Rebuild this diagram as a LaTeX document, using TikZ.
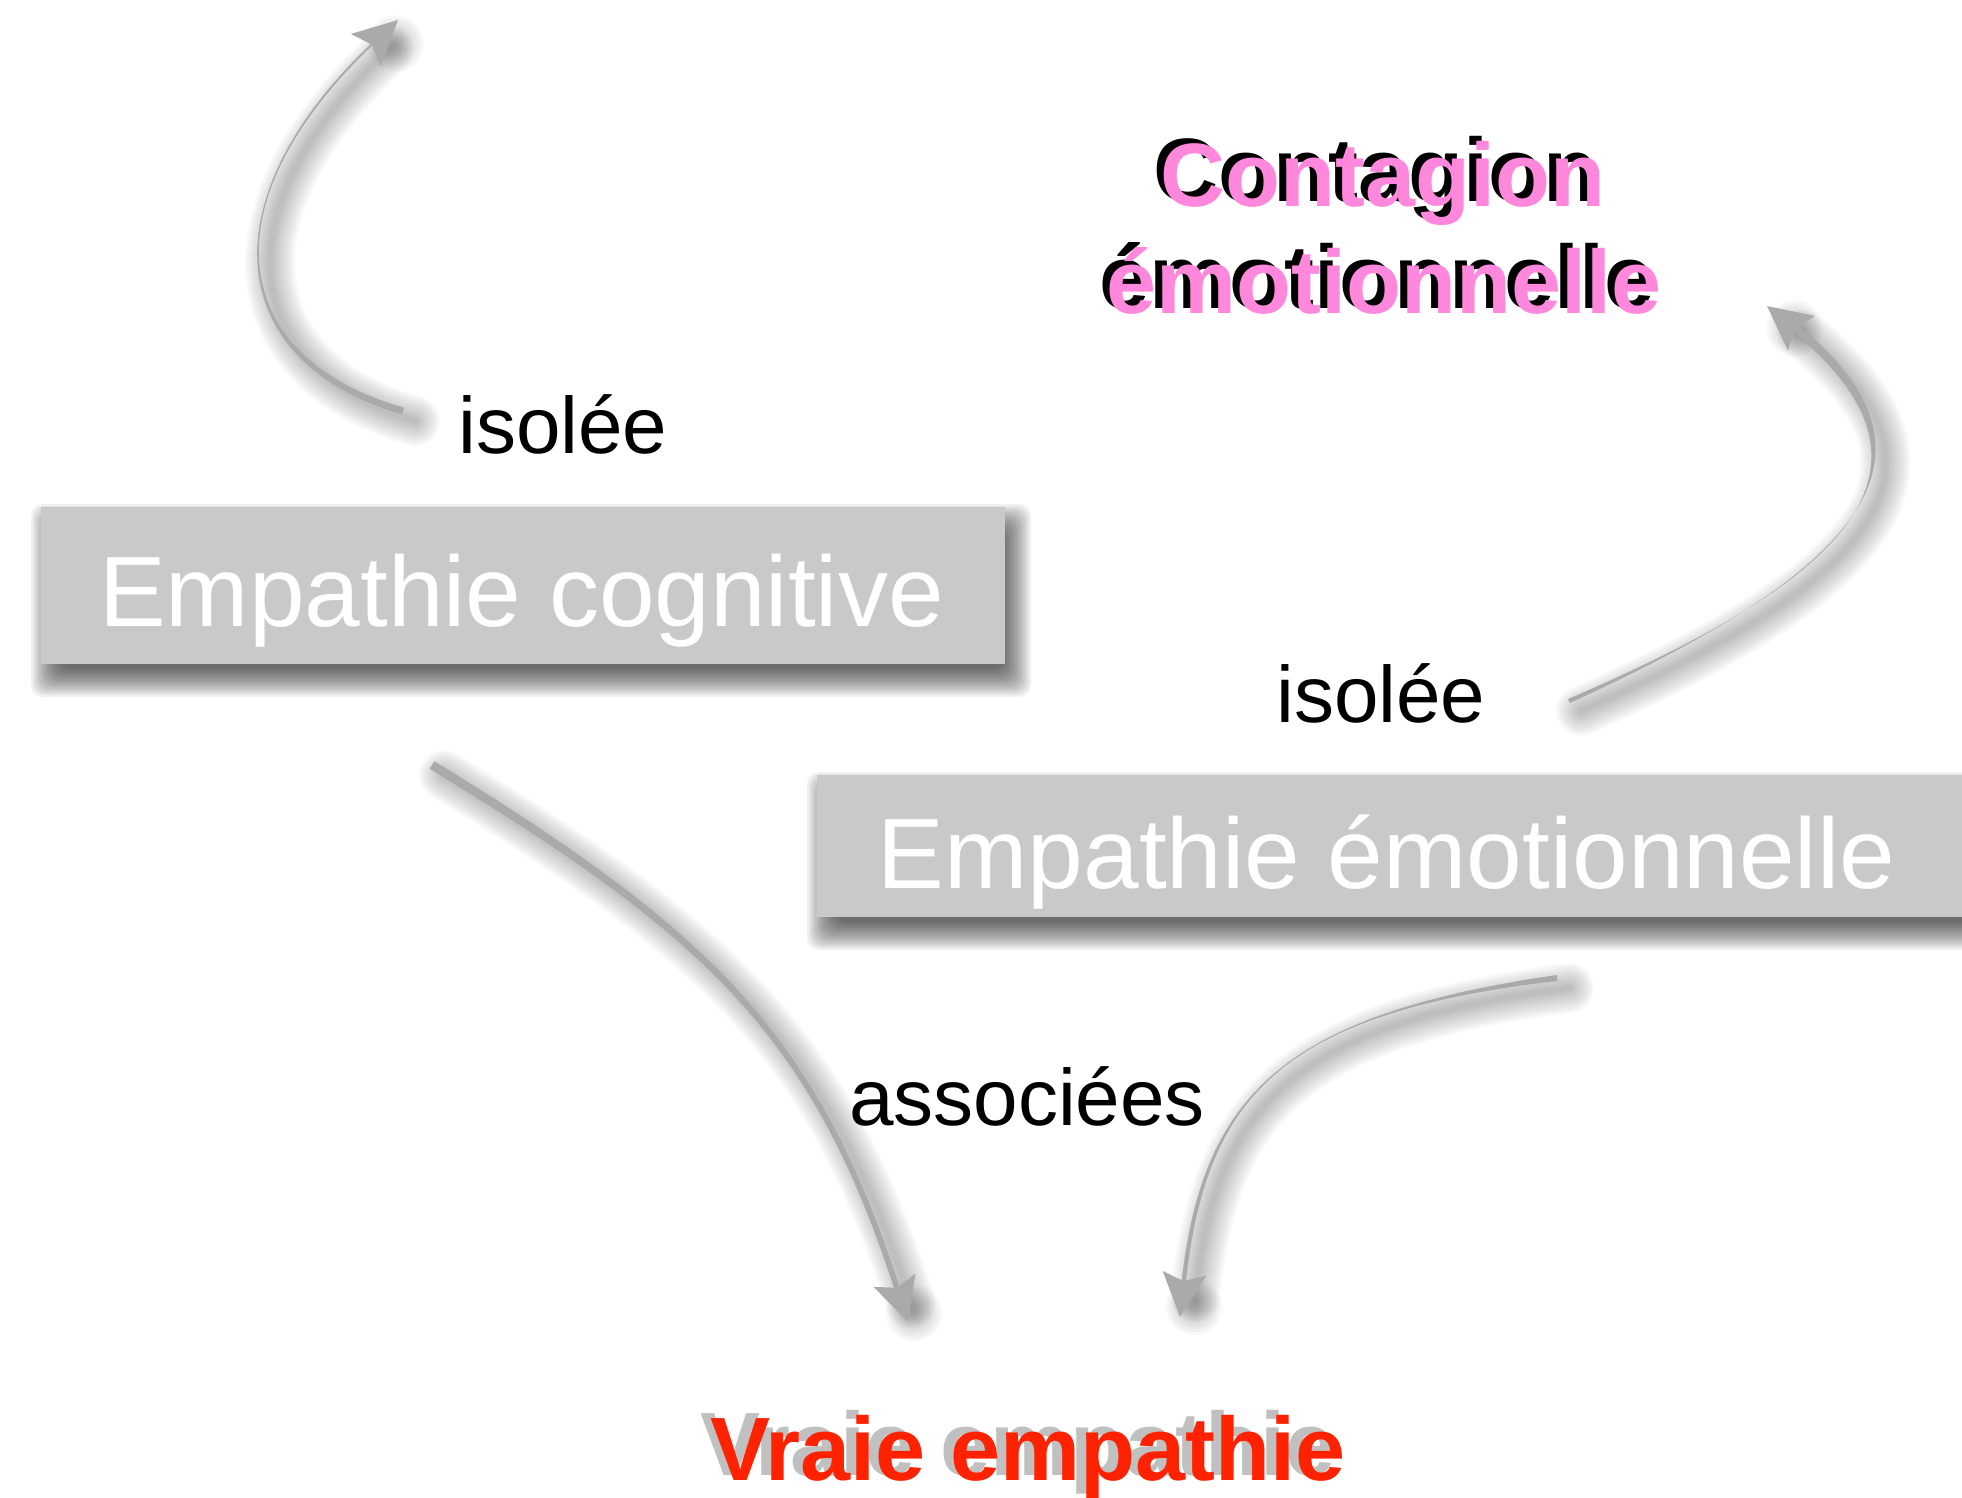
\documentclass[tikz,border=0pt]{standalone}
\usepackage{fontspec}
\setmainfont{Liberation Sans}
\usetikzlibrary{calc}
\definecolor{boxgray}{RGB}{201,201,201}
\definecolor{arrowgray}{RGB}{170,170,170}
\definecolor{rose}{RGB}{255,136,221}
\definecolor{rouge}{RGB}{255,34,0}
\definecolor{echo}{RGB}{192,192,192}

% Outline points of a tapered curved arrow.
% #1 prefix (coordinates #1s, #1a, #1b, #1t must exist),
% #2..#5 half widths at start, first control, second control, end.
\newcommand{\taperpoints}[5]{%
  \coordinate (#1e)  at ($(#1t)!30pt!(#1b)$);
  \coordinate (#1L0) at ($(#1s)!#2pt!90:(#1a)$);
  \coordinate (#1R0) at ($(#1s)!#2pt!-90:(#1a)$);
  \coordinate (#1L1) at ($(#1a)!#3pt!-90:(#1s)$);
  \coordinate (#1R1) at ($(#1a)!#3pt!90:(#1s)$);
  \coordinate (#1L2) at ($(#1b)!#4pt!90:(#1e)$);
  \coordinate (#1R2) at ($(#1b)!#4pt!-90:(#1e)$);
  \coordinate (#1L3) at ($(#1e)!#5pt!-90:(#1b)$);
  \coordinate (#1R3) at ($(#1e)!#5pt!90:(#1b)$);
  \coordinate (#1h0) at ($(#1t)!44pt!(#1b)$);
  \coordinate (#1hi) at ($(#1t)!36pt!(#1b)$);
  \coordinate (#1hl) at ($(#1h0)!22pt!90:(#1t)$);
  \coordinate (#1hr) at ($(#1h0)!22pt!-90:(#1t)$);
  \coordinate (#1hc) at ($(#1t)!20pt!(#1b)$);
}
\newcommand{\taperoutline}[1]{(#1L0) .. controls (#1L1) and (#1L2) .. (#1L3) -- (#1R3) .. controls (#1R2) and (#1R1) .. (#1R0) -- cycle (#1t) -- (#1hr) -- (#1hi) -- (#1hl) -- cycle}

% soft drop shadow of a tapered arrow: stacked translucent strokes
\newcommand{\arrowshadow}[1]{%
  \begin{scope}[transform canvas={shift={(12pt,-10pt)}}]
    \foreach \w in {6,10,...,50}{
      \draw[black, opacity=0.025, line width=\w pt, line cap=round, line join=round]
        (#1s) .. controls (#1a) and (#1b) .. (#1e);
    }
    \foreach \w in {8,14,...,56}{
      \fill[black, opacity=0.03] (#1hc) circle[radius=\w/2];
    }
  \end{scope}}

% soft drop shadow of a box given by its corners (image coordinates)
\newcommand{\boxshadow}[4]{%
  \foreach \e in {-10,-8,...,18}{
    \fill[black, opacity=0.055, rounded corners=12pt]
      ({#1+8-\e},{#2+15-\e}) rectangle ({#3+8+\e},{#4+15+\e});
  }}

\begin{document}
\begin{tikzpicture}[x=1pt,y=-1pt,
  boxshape/.style={fill=boxgray, draw=none, inner sep=0pt},
  boxtext/.style={anchor=base, inner sep=0pt, text=white, font=\fontsize{100}{100}\selectfont},
  lbl/.style={anchor=base, inner sep=0pt, font=\fontsize{80}{80}\selectfont},
  headline/.style={anchor=base, inner sep=0pt, font=\fontsize{90}{90}\selectfont\bfseries},
  arrowbody/.style={fill=arrowgray},
]
\useasboundingbox (0,0) rectangle (1962,1497);

% the two boxes with their shadows
\boxshadow{41}{507}{1005}{664}
\boxshadow{817}{775}{1980}{917}
\node[boxshape, minimum width=964pt, minimum height=157pt] (cog) at (523,585.5) {};
\node[boxshape, minimum width=1163pt, minimum height=142pt] (emo) at (1398.5,846) {};

% arrow from the cognitive box upwards
\coordinate (As) at (403,411);
\coordinate (Aa) at (225,360);
\coordinate (Ab) at (205,200);
\coordinate (At) at (398,20);
\taperpoints{A}{3.5}{3}{1.2}{1}

% arrow towards emotional contagion
\coordinate (Bs) at (1569,701);
\coordinate (Ba) at (1830,585);
\coordinate (Bb) at (1975,470);
\coordinate (Bt) at (1767,306);
\taperpoints{B}{2.2}{-1.5}{5}{4}

% arrow from the cognitive box down to true empathy
\coordinate (Cs) at (432,765);
\coordinate (Ca) at (714,937);
\coordinate (Cb) at (816,1037);
\coordinate (Ct) at (908,1322);
\taperpoints{C}{4.5}{3.5}{3}{2.8}

% arrow from the emotional box down to true empathy
\coordinate (Ds) at (1557,978);
\coordinate (Da) at (1279,1014);
\coordinate (Db) at (1203,1098);
\coordinate (Dt) at (1180,1317);
\taperpoints{D}{3}{-1.2}{1.8}{2.2}

\arrowshadow{A}
\arrowshadow{B}
\arrowshadow{C}
\arrowshadow{D}

\fill[arrowbody] \taperoutline{A};
\fill[arrowbody] \taperoutline{B};
\fill[arrowbody] \taperoutline{C};
\fill[arrowbody] \taperoutline{D};

% box captions
\node[boxtext] (cogtxt) at (521.5,626) {Empathie cognitive};
\node[boxtext] (emotxt) at (1386.5,888) {Empathie émotionnelle};

% small labels
\node[lbl] (iso1) at (563,453) {isolée};
\node[lbl] (iso2) at (1381,722) {isolée};
\node[lbl] (assoc) at (1027,1125) {associées};

% emotional contagion, black under pink
\node[headline, text=black] (cont1b) at (1376,201) {Contagion};
\node[headline, text=rose] (cont1) at (1383,206) {Contagion};
\node[headline, text=black] (cont2b) at (1377,308) {émotionnelle};
\node[headline, text=rose] (cont2) at (1384,313) {émotionnelle};

% true empathy, grey under red
\node[headline, text=echo] (vraieb) at (1018,1475.5) {Vraie empathie};
\node[headline, text=rouge] (vraie) at (1028,1480) {Vraie empathie};
\end{tikzpicture}
\end{document}
